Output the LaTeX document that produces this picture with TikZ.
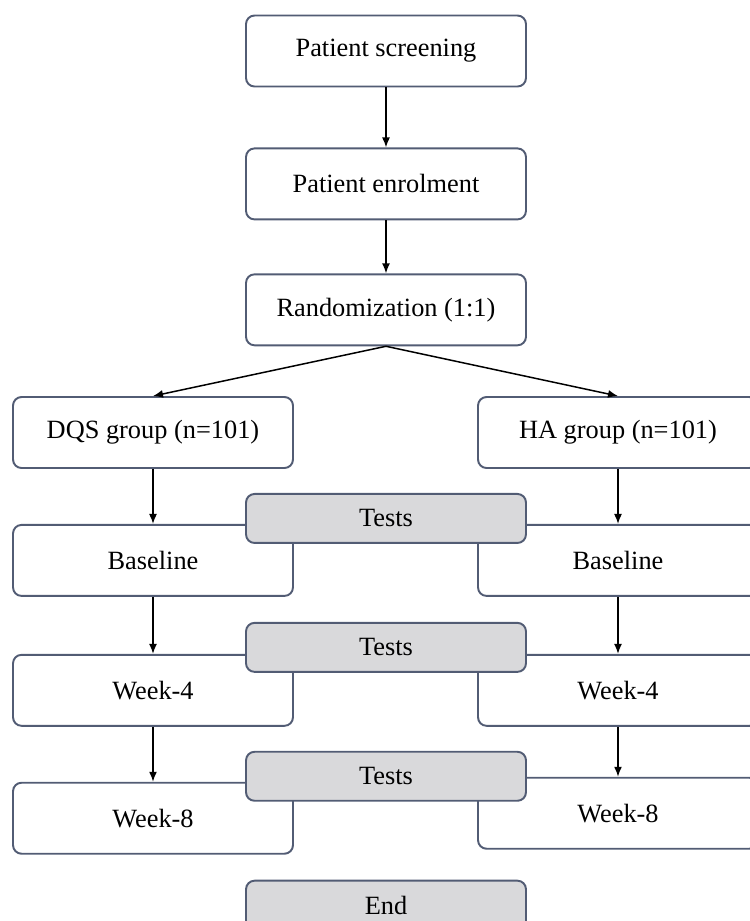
\documentclass[tikz,border=0pt]{standalone}
\usepackage{fontspec}
\setmainfont{Liberation Serif}
\usetikzlibrary{positioning, arrows.meta}
\definecolor{edge}{RGB}{82,92,116}
\definecolor{testgray}{RGB}{217,217,219}
\tikzstyle{box}=[draw=edge, line width=1.1pt, rounded corners=0.17cm, align=center,
                 font=\fontsize{15}{18}\selectfont, minimum height=1.42cm,
                 minimum width=5.6cm, fill=white]
\tikzstyle{tst}=[box, minimum height=0.98cm, fill=testgray]
\tikzstyle{ar}=[-{Latex[length=2mm, width=1.6mm]}, line width=0.85pt]

\begin{document}
\begin{tikzpicture}[x=0.02cm, y=-0.02cm]
    \useasboundingbox (0,0) rectangle (750,921);
    \clip (0,0) rectangle (750,921);
    % top column
    \node[box] at (386,51) (scr) {Patient screening};
    \node[box, below=1.2cm of scr] (enr) {Patient enrolment};
    \node[box, below=1.06cm of enr] (rnd) {Randomization (1:1)};
    % two arms
    \node[box] at (153,432.5) (dqs) {DQS group (n=101)};
    \node[box] at (618,432.5) (ha) {HA group (n=101)};
    \node[box, below=1.1cm of dqs] (bl1) {Baseline};
    \node[box, below=1.1cm of ha]  (bl2) {Baseline};
    \node[box, below=1.14cm of bl1] (wfl) {Week-4};
    \node[box, below=1.14cm of bl2] (wfr) {Week-4};
    \node[box, below=1.1cm of wfl] (wel) {Week-8};
    \node[box, below=1.0cm of wfr] (wer) {Week-8};
    % tests in the middle
    \node[tst] at ([yshift=0.11cm]rnd |- bl1.north) (ts1) {Tests};
    \node[tst] at ([yshift=0.13cm]rnd |- wfl.north) (ts2) {Tests};
    \node[tst] at ([yshift=0.11cm]rnd |- wel.north) (ts3) {Tests};
    \node[tst, below=1.56cm of ts3] (fin) {End};
    \draw[ar] (scr)--(enr);
    \draw[ar] (enr)--(rnd);
    \draw[ar] (rnd.south)--(dqs.north);
    \draw[ar] (rnd.south)--(ha.north);
    \draw[ar] (dqs)--(bl1);
    \draw[ar] (ha)--(bl2);
    \draw[ar] (bl1)--(wfl);
    \draw[ar] (bl2)--(wfr);
    \draw[ar] (wfl)--(wel);
    \draw[ar] (wfr)--(wer);
  \end{tikzpicture}
\end{document}
